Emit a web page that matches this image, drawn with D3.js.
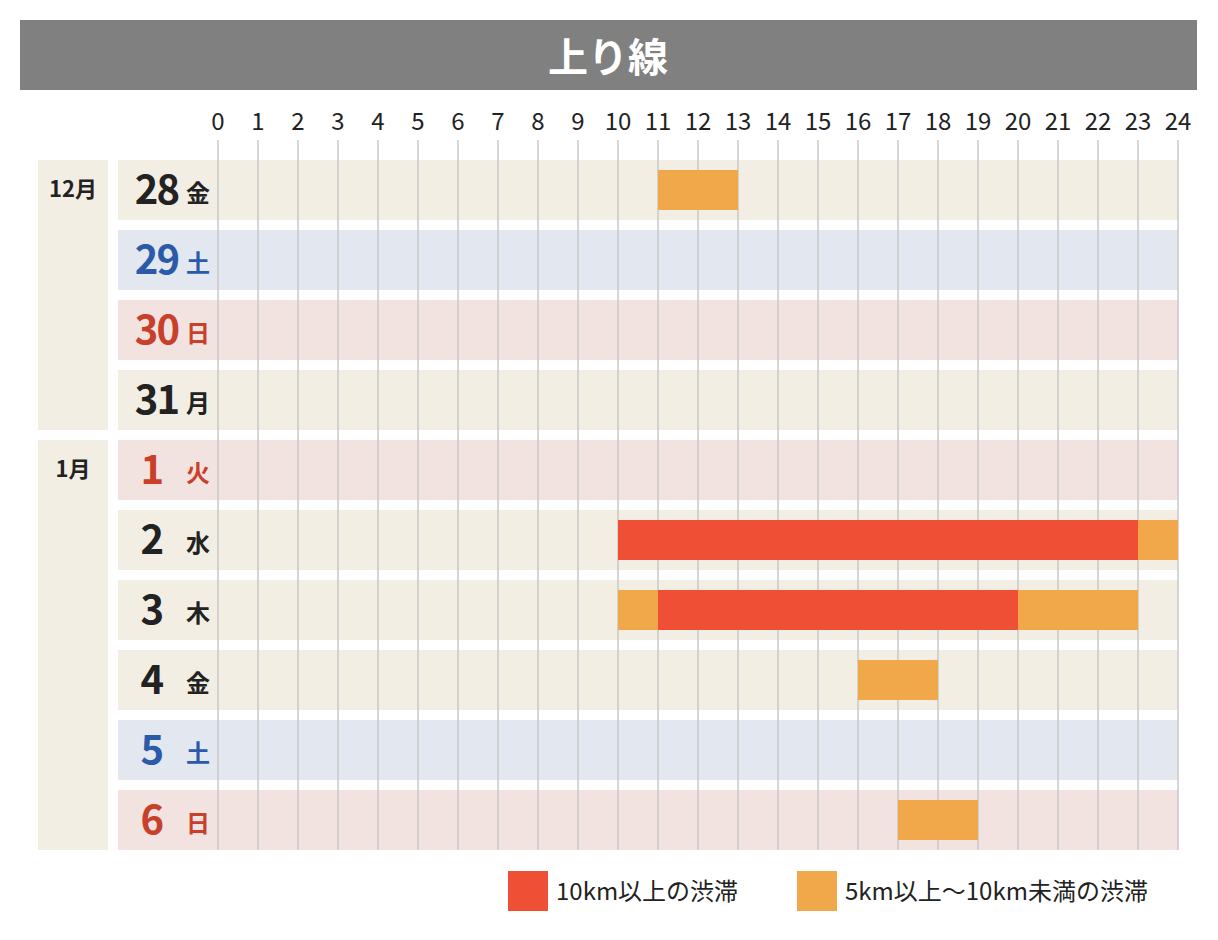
<!DOCTYPE html>
<html><head><meta charset="utf-8">
<script src="https://cdn.jsdelivr.net/npm/d3@7"></script>
<style>body{margin:0;background:#fff;font-family:"Noto Sans CJK JP","Noto Sans",sans-serif}</style>
</head><body><svg id="c" width="1218" height="940"></svg>
<script>
const title = "上り線";
const hours = d3.range(0, 25);
const days = ["28","29","30","31","1","2","3","4","5","6"];
const weekdays = ["金","土","日","月","火","水","木","金","土","日"];
const dayType = ["w","sat","sun","w","sun","w","w","w","sat","sun"];
const months = [{label:"12月", from:0, to:3}, {label:"1月", from:4, to:9}];
// jams: row index, start hour, end hour, level
const jams = [
  {row:0, s:11, e:13, lv:"mid"},
  {row:5, s:10, e:23, lv:"heavy"},
  {row:5, s:23, e:24, lv:"mid"},
  {row:6, s:10, e:11, lv:"mid"},
  {row:6, s:11, e:20, lv:"heavy"},
  {row:6, s:20, e:23, lv:"mid"},
  {row:7, s:16, e:18, lv:"mid"},
  {row:9, s:17, e:19, lv:"mid"}
];
const legend = [{lv:"heavy", label:"10km以上の渋滞"}, {lv:"mid", label:"5km以上〜10km未満の渋滞"}];

const bg = {w:"#f2eee3", sat:"#e3e7f0", sun:"#f2e2e0"};
const fg = {w:"#222", sat:"#2a5aa8", sun:"#c8402a"};
const barColor = {heavy:"#ee4f35", mid:"#f1a84a"};

const svg = d3.select("#c");
const x = d3.scaleLinear().domain([0,24]).range([218,1178]);
const y = d3.scaleBand().domain(d3.range(days.length)).range([160,850]).paddingInner(10/70);

svg.append("rect").attr("x",20).attr("y",20).attr("width",1177).attr("height",70).attr("fill","#808080");
svg.append("text").attr("x",608).attr("y",72).attr("text-anchor","middle").attr("fill","#fff")
  .attr("font-size",40).attr("font-weight","bold").text(title);

// rows
svg.selectAll(".row").data(days).join("rect")
  .attr("x",118).attr("width",1178-118).attr("y",(d,i)=>y(i)).attr("height",y.bandwidth())
  .attr("fill",(d,i)=>bg[dayType[i]]);

// months
months.forEach(m=>{
  const y0 = y(m.from), y1 = y(m.to)+y.bandwidth();
  svg.append("rect").attr("x",38).attr("width",70).attr("y",y0).attr("height",y1-y0).attr("fill","#f2eee3");
  svg.append("text").attr("x",73).attr("y",y0+37).attr("text-anchor","middle")
    .attr("font-size",22).attr("font-weight","bold").attr("fill","#222").text(m.label);
});

// gridlines
svg.selectAll(".g").data(hours).join("line")
  .attr("x1",d=>x(d)).attr("x2",d=>x(d)).attr("y1",140).attr("y2",850)
  .attr("stroke","#c8c8c8").attr("stroke-width",1.5);

// hour labels
svg.selectAll(".h").data(hours).join("text")
  .attr("x",d=>x(d)).attr("y",130).attr("text-anchor","middle")
  .attr("font-size",24).attr("fill","#222").text(d=>d);

// bars
svg.selectAll(".bar").data(jams).join("rect")
  .attr("x",d=>x(d.s)).attr("width",d=>x(d.e)-x(d.s))
  .attr("y",d=>y(d.row)+10).attr("height",y.bandwidth()-20)
  .attr("fill",d=>barColor[d.lv]);

// day labels
days.forEach((d,i)=>{
  const cy = y(i)+y.bandwidth()/2;
  svg.append("text").attr("x",d.length>1?178:162).attr("y",cy+14).attr("text-anchor","end")
    .attr("font-size",40).attr("font-weight","bold").attr("letter-spacing",-2).attr("fill",fg[dayType[i]]).text(d);
  svg.append("text").attr("x",198).attr("y",cy+12).attr("text-anchor","middle")
    .attr("font-size",24).attr("font-weight","bold").attr("fill",fg[dayType[i]]).text(weekdays[i]);
});

// legend
const lx = [508, 797];
legend.forEach((l,i)=>{
  svg.append("rect").attr("x",lx[i]).attr("y",871).attr("width",40).attr("height",40).attr("fill",barColor[l.lv]);
  svg.append("text").attr("x",lx[i]+48).attr("y",900).attr("font-size",24).attr("fill","#222").text(l.label);
});
</script></body></html>
